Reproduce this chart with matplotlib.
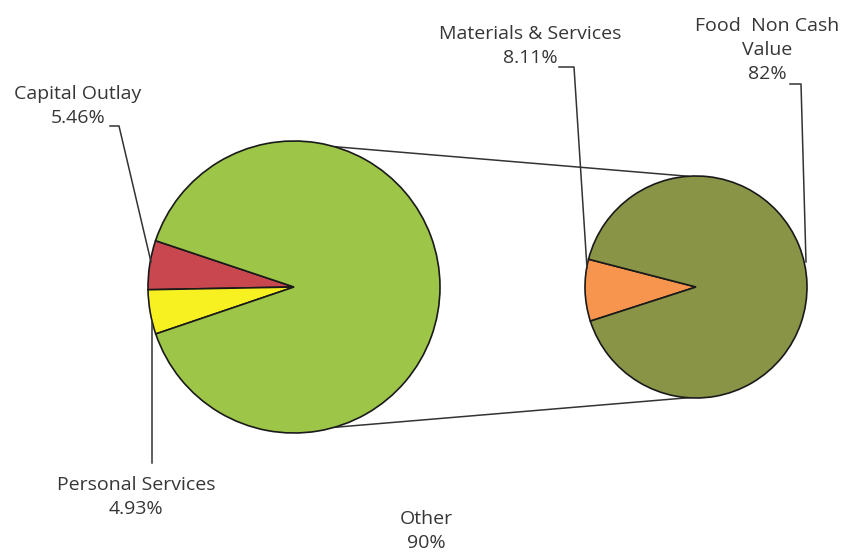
import numpy as np
import matplotlib.pyplot as plt

plt.rcParams['font.family'] = ['Open Sans', 'DejaVu Sans']

# main pie
main_labels = ['Capital Outlay', 'Personal Services', 'Other']
main_values = [5.46, 4.93, 90]
main_colors = ['#C9474F', '#F7F122', '#9DC648']

# breakdown pie of "Other"
sub_labels = ['Materials & Services', 'Food  Non Cash\nValue']
sub_values = [8.11, 82]
sub_colors = ['#F7954F', '#8A9447']

W, H = 845, 557
fig = plt.figure(figsize=(W / 100, H / 100), dpi=100)
ax = fig.add_axes([0, 0, 1, 1])


def Y(y):
    # image rows run downward, axes y runs upward
    return H - y


c1, r1 = (294, Y(287)), 146
c2, r2 = (696, Y(287)), 111
edge = dict(edgecolor='#1a1a1a', linewidth=1.2)

ax.pie(main_values, colors=main_colors, startangle=161.5, counterclock=True,
       center=c1, radius=r1, wedgeprops=edge, frame=True)
ax.pie(sub_values, colors=sub_colors, startangle=165.5, counterclock=True,
       center=c2, radius=r2, wedgeprops=edge, frame=True)


def on_circle(c, r, deg):
    a = np.radians(deg)
    return c[0] + r * np.cos(a), c[1] + r * np.sin(a)


# connector lines between the two pies
for a1, a2 in [(74, 94), (-74, -94)]:
    p1 = on_circle(c1, r1, a1)
    p2 = on_circle(c2, r2, a2)
    ax.plot([p1[0], p2[0]], [p1[1], p2[1]], color='#333333', lw=1.1, zorder=0)

txt = dict(color='#363636', fontsize=14, ha='center', va='center', linespacing=1.45)
line = dict(color='#333333', lw=1.1)

# Capital Outlay
ax.text(78, Y(106), main_labels[0] + '\n' + f'{main_values[0]}%', **txt)
ax.plot([110, 119, 151], [Y(126), Y(126), Y(262)], **line)
# Personal Services
ax.text(136, Y(497), main_labels[1] + '\n' + f'{main_values[1]}%', **txt)
ax.plot([152, 152], [Y(463), Y(322)], **line)
# Other
ax.text(426, Y(531), main_labels[2] + '\n' + f'{main_values[2]:g}%', **txt)
# Materials & Services
ax.text(530, Y(46), sub_labels[0] + '\n' + f'{sub_values[0]}%', **txt)
ax.plot([559, 574, 587], [Y(67), Y(67), Y(268)], **line)
# Food Non Cash Value
ax.text(767, Y(50), sub_labels[1] + '\n' + f'{sub_values[1]:g}%', **txt)
ax.plot([790, 801, 806], [Y(84), Y(84), Y(262)], **line)

ax.set_xlim(0, W)
ax.set_ylim(0, H)
ax.set_aspect('equal')
ax.axis('off')

fig.savefig('out.png', dpi=100, facecolor='white')
